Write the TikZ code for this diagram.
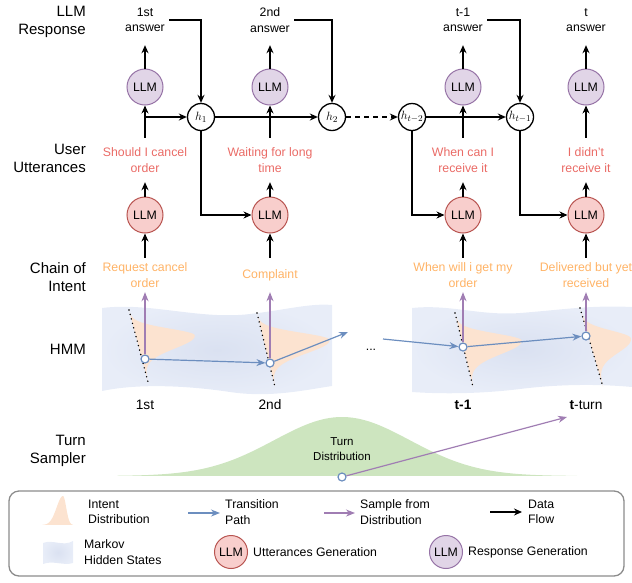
\documentclass[tikz,border=0pt]{standalone}
\usepackage[no-math]{fontspec}
\setmainfont{Liberation Sans}
\usetikzlibrary{positioning,arrows.meta,calc}

\definecolor{respfill}{HTML}{E1D5E7}
\definecolor{respline}{HTML}{9673A6}
\definecolor{uttfill}{HTML}{F8CECC}
\definecolor{uttline}{HTML}{B85450}
\definecolor{utttext}{HTML}{EA6B66}
\definecolor{intenttext}{HTML}{FFB366}
\definecolor{transblue}{HTML}{6C8EBF}
\definecolor{samplepurple}{HTML}{A07DB3}
\definecolor{bandin}{HTML}{DAE1F1}
\definecolor{bandout}{HTML}{E8EDF8}
\definecolor{peach}{HTML}{FCE3D0}
\definecolor{turngreen}{HTML}{CDE5BF}
\definecolor{boxgray}{HTML}{8C8C8C}

\newcommand\sidefont{\fontsize{15}{18}\selectfont}
\newcommand\bodyfont{\fontsize{12.3}{15.5}\selectfont}
\newcommand\turnfont{\fontsize{13.7}{16}\selectfont}
\newcommand\notefont{\fontsize{11.5}{15}\selectfont}

\def\intentdist(#1,#2)(#3,#4)(#5,#6){\fill[peach] plot[domain=0:1,samples=90] ({#1+(#3-#1)*\x+#5*exp(0-((\x-#6)/ifthenelse(\x<#6,0.13,0.26))^2)},{#2+(#4-#2)*\x}) -- cycle;}

\tikzset{
	sidelabel/.style={anchor=east, align=right, font=\sidefont, inner sep=0pt},
	answer/.style={align=center, font=\bodyfont, minimum height=50pt, inner xsep=4pt, inner ysep=1pt},
	utter/.style={align=center, text=utttext, font=\bodyfont, minimum height=44pt, inner sep=1pt},
	intent/.style={align=center, text=intenttext, font=\bodyfont, minimum height=34pt, inner sep=1pt},
	llmresp/.style={circle, draw=respline, fill=respfill, line width=1pt, minimum size=36pt, inner sep=0pt, font=\bodyfont},
	llmutt/.style={circle, draw=uttline, fill=uttfill, line width=1pt, minimum size=36pt, inner sep=0pt, font=\bodyfont},
	hstate/.style={circle, draw, fill=white, line width=1.3pt, minimum size=27pt, inner sep=0pt, font=\fontsize{12.5}{14}\selectfont},
	hidden/.style={circle, draw=transblue, fill=white, line width=1.2pt, minimum size=8pt, inner sep=0pt},
	turnlbl/.style={font=\turnfont, inner sep=1pt},
	keytext/.style={anchor=west, align=left, font=\bodyfont, inner sep=0pt},
	flow/.style={-{Stealth[length=8pt,width=7pt]}, line width=1.3pt},
	trans/.style={-{Stealth[length=9pt,width=7pt]}, line width=1.2pt, draw=transblue},
	sample/.style={-{Stealth[length=9pt,width=7pt]}, line width=1.2pt, draw=samplepurple},
	dotline/.style={line width=1.6pt, line cap=round, dash pattern=on 0pt off 4.6pt},
	legendbox/.style={draw=boxgray, line width=1.3pt, rounded corners=10pt}
}

\begin{document}
\begin{tikzpicture}[x=1pt, y=-1pt]
	\useasboundingbox (0,0) rectangle (632,582);
	%%%%% ROW LABELS %%%%%
	\node[sidelabel] (lresp) at (86,22) {LLM\\Response};
	\node[sidelabel] (lutt) at (86,158) {User\\Utterances};
	\node[sidelabel] (lint) at (86,277) {Chain of\\Intent};
	\node[sidelabel] (lhmm) at (86,349) {HMM};
	\node[sidelabel] (lturn) at (86,451) {Turn\\Sampler};
	
	%%%%% HMM BANDS %%%%%
	\shade[inner color=bandin, outer color=bandout] (102,308) .. controls (150,302) and (200,320) .. (250,314) .. controls (285,310) and (310,303) .. (332,305) -- (332,386) .. controls (305,390) and (270,398) .. (230,392) .. controls (190,386) and (140,383) .. (102,391) -- cycle;
	\shade[inner color=bandin, outer color=bandout] (412,308) .. controls (450,304) and (480,316) .. (520,313) .. controls (560,310) and (590,305) .. (632,307) -- (632,387) .. controls (600,384) and (560,384) .. (520,389) .. controls (480,394) and (440,394) .. (412,392) -- cycle;
	
	\intentdist(129,310)(148,382)(59,0.35)
	\intentdist(257,313)(275,387)(66,0.36)
	\intentdist(455,313)(473,387)(60,0.37)
	\intentdist(580,308)(603,387)(42,0.38)
	
	\draw[dotline] (129,310) -- (148,382);
	\draw[dotline] (257,313) -- (275,387);
	\draw[dotline] (455,313) -- (473,387);
	\draw[dotline] (580,308) -- (603,387);
	
	\node[font=\bodyfont] (dots) at (371,350) {...};
	
	%%%%% TURN SAMPLER %%%%%
	\fill[turngreen] plot[domain=117:577,samples=120] (\x,{476-59*exp(0-((\x-342)/96)^2)}) -- cycle;
	\node[align=center, font=\notefont] (tdist) at (342,449) {Turn\\Distribution};
	
	%%%%% COLUMNS %%%%%
	\node[answer] (a1) at (145,20) {1st\\answer};
	\node[answer] (a2) at (270,20) {2nd\\answer};
	\node[answer] (a3) at (463,20) {t-1\\answer};
	\node[answer] (a4) at (586,20) {t\\answer};
	
	\node[llmresp] (r1) at (145,87) {LLM};
	\node[llmresp] (r2) at (270,87) {LLM};
	\node[llmresp] (r3) at (463,87) {LLM};
	\node[llmresp] (r4) at (586,87) {LLM};
	
	\node[hstate] (h1) at (201,117) {$h_1$};
	\node[hstate] (h2) at (332,117) {$h_2$};
	\node[hstate] (h3) at (412,117) {$h_{t-2}$};
	\node[hstate] (h4) at (520,117) {$h_{t-1}$};
	
	\node[utter] (q1) at (145,160) {Should I cancel\\order};
	\node[utter] (q2) at (270,160) {Waiting for long\\time};
	\node[utter] (q3) at (463,160) {When can I\\receive it};
	\node[utter] (q4) at (586,160) {I didn't\\receive it};
	
	\node[llmutt] (u1) at (145,215) {LLM};
	\node[llmutt] (u2) at (270,215) {LLM};
	\node[llmutt] (u3) at (463,215) {LLM};
	\node[llmutt] (u4) at (586,215) {LLM};
	
	\node[intent] (i1) at (145,275) {Request cancel\\order};
	\node[intent] (i2) at (270,275) {Complaint};
	\node[intent] (i3) at (463,275) {When will i get my\\order};
	\node[intent] (i4) at (586,275) {Delivered but yet\\received};
	
	\node[hidden] (s1) at (145,359) {};
	\node[hidden] (s2) at (270,363) {};
	\node[hidden] (s3) at (463,347) {};
	\node[hidden] (s4) at (586,336) {};
	
	\node[turnlbl] (c1) at (145,405) {1st};
	\node[turnlbl] (c2) at (270,405) {2nd};
	\node[turnlbl] (c3) at (463,405) {\textbf{t-1}};
	\node[turnlbl] (c4) at (586,405) {\textbf{t}-turn};
	
	%%%%% DATA FLOW %%%%%
	\draw[flow] (r1) -- (a1);
	\draw[flow] (r2) -- (a2);
	\draw[flow] (r3) -- (a3);
	\draw[flow] (r4) -- (a4);
	
	\draw[flow] (q1) -- (r1);
	\draw[flow] (q2) -- (r2);
	\draw[flow] (q3) -- (r3);
	\draw[flow] (q4) -- (r4);
	
	\draw[flow] (h1 -| r1) -- (h1);
	\draw[flow] (a1.east) -| (h1);
	\draw[flow] (a2.east) -| (h2);
	\draw[flow] (a3.east) -| (h4);
	\draw[flow] (h1) -- (h2);
	\draw[flow, dash pattern=on 5pt off 4pt] (h2) -- (h3);
	\draw[flow] (h3) -- (h4);
	
	\draw[flow] (h1) |- (u2);
	\draw[flow] (h3) |- (u3);
	\draw[flow] (h4) |- (u4);
	
	\draw[flow] (u1) -- (q1);
	\draw[flow] (u2) -- (q2);
	\draw[flow] (u3) -- (q3);
	\draw[flow] (u4) -- (q4);
	
	\draw[flow] (i1) -- (u1);
	\draw[flow] (i2) -- (u2);
	\draw[flow] (i3) -- (u3);
	\draw[flow] (i4) -- (u4);
	
	%%%%% HMM PATH %%%%%
	\draw[sample] (s1) -- (i1);
	\draw[sample] (s2) -- (i2);
	\draw[sample] (s3) -- (i3);
	\draw[sample] (s4) -- (i4);
	
	\coordinate (gap1) at (348,332);
	\coordinate (gap2) at (383,339);
	\draw[trans] (s1) -- (s2);
	\draw[trans] (s2) -- (gap1);
	\draw[trans] (gap2) -- (s3);
	\draw[trans] (s3) -- (s4);
	
	\node[hidden] (tpick) at (342,477) {};
	\coordinate (tend) at (567,417);
	\draw[sample] (tpick) -- (tend);
	
	%%%%% LEGEND %%%%%
	\draw[legendbox] (9,491) rectangle (624,576);
	
	\fill[peach] plot[domain=42:73,samples=60] (\x,{525-29*exp(0-((\x-63)/ifthenelse(\x<63,9,4.5))^2)}) -- cycle;
	\node[keytext] (kint) at (88,512) {Intent\\Distribution};
	\coordinate (ktransa) at (188,513);
	\coordinate (ktransb) at (220,513);
	\draw[trans] (ktransa) -- (ktransb);
	\node[keytext] (ktrans) at (225,512) {Transition\\Path};
	\coordinate (ksampa) at (324,513);
	\coordinate (ksampb) at (355,513);
	\draw[sample] (ksampa) -- (ksampb);
	\node[keytext] (ksamp) at (360,512) {Sample from\\Distribution};
	\coordinate (kflowa) at (490,512);
	\coordinate (kflowb) at (522,512);
	\draw[flow] (kflowa) -- (kflowb);
	\node[keytext] (kflow) at (528,512) {Data\\Flow};
	
	\shade[inner color=bandin, outer color=bandout] (43,543) .. controls (53,539) and (63,547) .. (73,541) -- (73,563) .. controls (63,566) and (53,560) .. (43,564) -- cycle;
	\node[keytext] (kband) at (84,552) {Markov\\Hidden States};
	\node[llmutt, minimum size=33pt] (kutt) at (231,552) {LLM};
	\node[keytext, right=5pt of kutt] (kutttxt) {Utterances Generation};
	\node[llmresp, minimum size=33pt] (kresp) at (446,552) {LLM};
	\node[keytext, right=5pt of kresp] (kresptxt) {Response Generation};
\end{tikzpicture}
\end{document}
